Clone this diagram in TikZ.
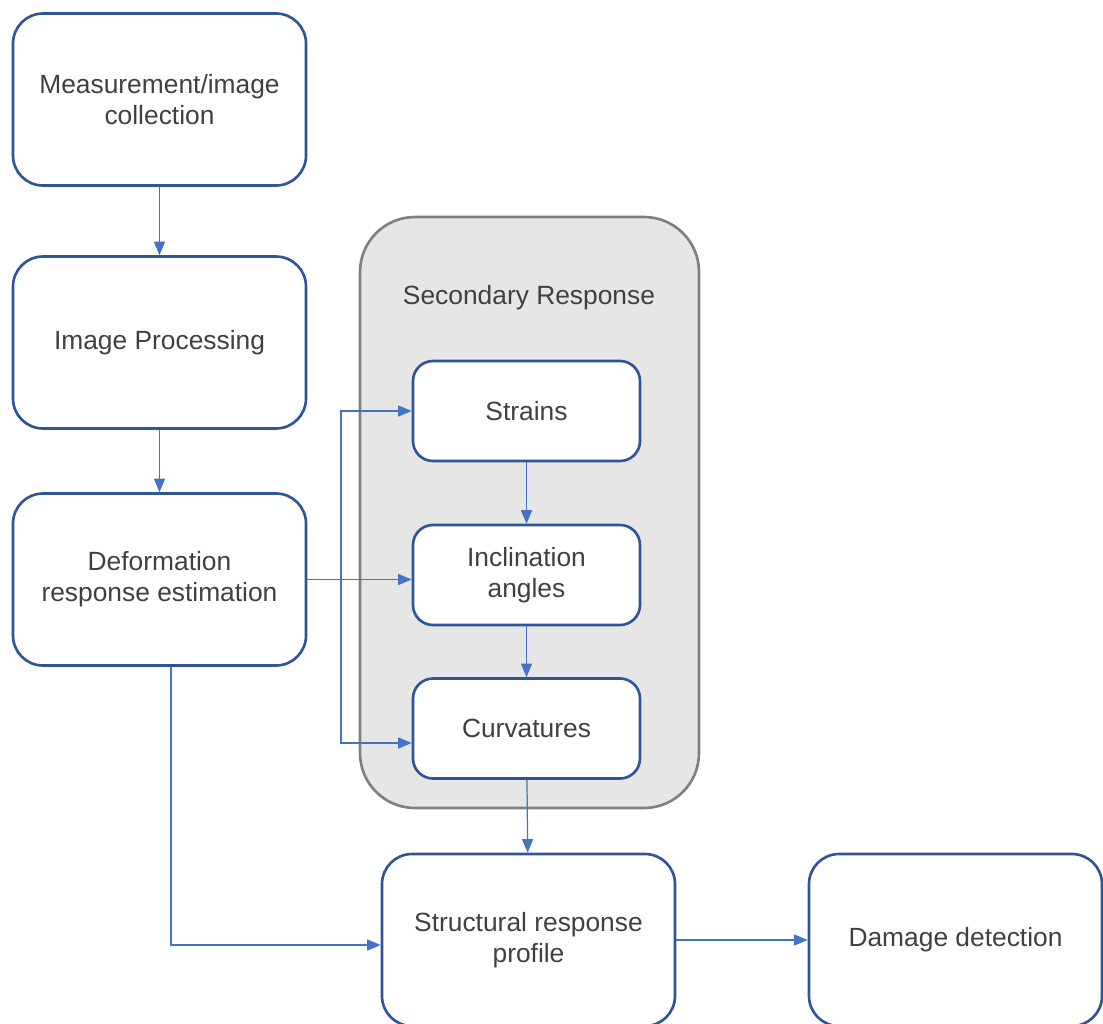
\documentclass[tikz,border=0pt]{standalone}
\usepackage{fontspec}
\setmainfont{Liberation Sans}
\usepackage{xcolor}
\usepackage{tikz}
\usetikzlibrary{arrows.meta, positioning, calc}
\definecolor{boxblue}{RGB}{47, 85, 151}
\definecolor{linkblue}{RGB}{68, 114, 196}
\definecolor{panelgray}{RGB}{230, 230, 230}
\definecolor{panelline}{RGB}{128, 128, 128}
\definecolor{textgray}{RGB}{64, 64, 64}

\tikzset{
  bigbox/.style={draw=boxblue, line width=1.5pt, rounded corners=0.6cm, fill=white,
                 minimum width=5.86cm, minimum height=3.44cm, align=center,
                 text=textgray, font=\fontsize{15}{17.6}\selectfont},
  smallbox/.style={draw=boxblue, line width=1.5pt, rounded corners=0.4cm, fill=white,
                   minimum width=4.54cm, minimum height=2.0cm, align=center,
                   text=textgray, font=\fontsize{15}{17.6}\selectfont},
  link/.style={draw=linkblue, line width=0.7pt, -{Triangle[length=0.27cm, width=0.22cm]}}
}

\begin{document}
\begin{tikzpicture}

\useasboundingbox (0,0) rectangle (22.06,-20.46);

% Secondary response panel
\draw[panelline, fill=panelgray, line width=1.5pt, rounded corners=1.1cm]
    (7.2,-4.34) rectangle (13.98,-16.16);
\node[text=textgray, font=\fontsize{15}{17.6}\selectfont] (secondary) at (10.58,-5.96)
    {Secondary Response};

% Left column
\node[bigbox] (collect) at (3.19,-1.99) {Measurement/image\\collection};
\node[bigbox] (process) at (3.19,-6.85) {Image Processing};
\node[bigbox] (defo) at (3.19,-11.59) {Deformation\\response estimation};

% Inside the panel
\node[smallbox] (strains) at (10.53,-8.22) {Strains};
\node[smallbox] (incl) at (10.53,-11.5) {Inclination\\angles};
\node[smallbox] (curv) at (10.53,-14.57) {Curvatures};

% Bottom row
\node[bigbox] (profile) at (10.57,-18.8) {Structural response\\profile};
\node[bigbox] (damage) at (19.11,-18.8) {Damage detection};

% Connectors
\draw[link] (collect) -- (process);
\draw[link] (process) -- (defo);
\draw[link] (defo.east) -- (defo.east -| incl.west);
\coordinate (split) at ($(defo.east)!0.5!(defo.east -| incl.west) - (0.37,0)$);
\draw[link] (split) |- (strains.west);
\draw[link] (split) |- ([yshift=-0.29cm]curv.west);
\draw[link] (strains) -- (incl);
\draw[link] (incl) -- (curv);
\draw[link] (curv) -- (profile);
\draw[link] ([xshift=0.23cm]defo.south) |- ([yshift=-0.1cm]profile.west);
\draw[link] (profile) -- (damage);

\end{tikzpicture}
\end{document}
